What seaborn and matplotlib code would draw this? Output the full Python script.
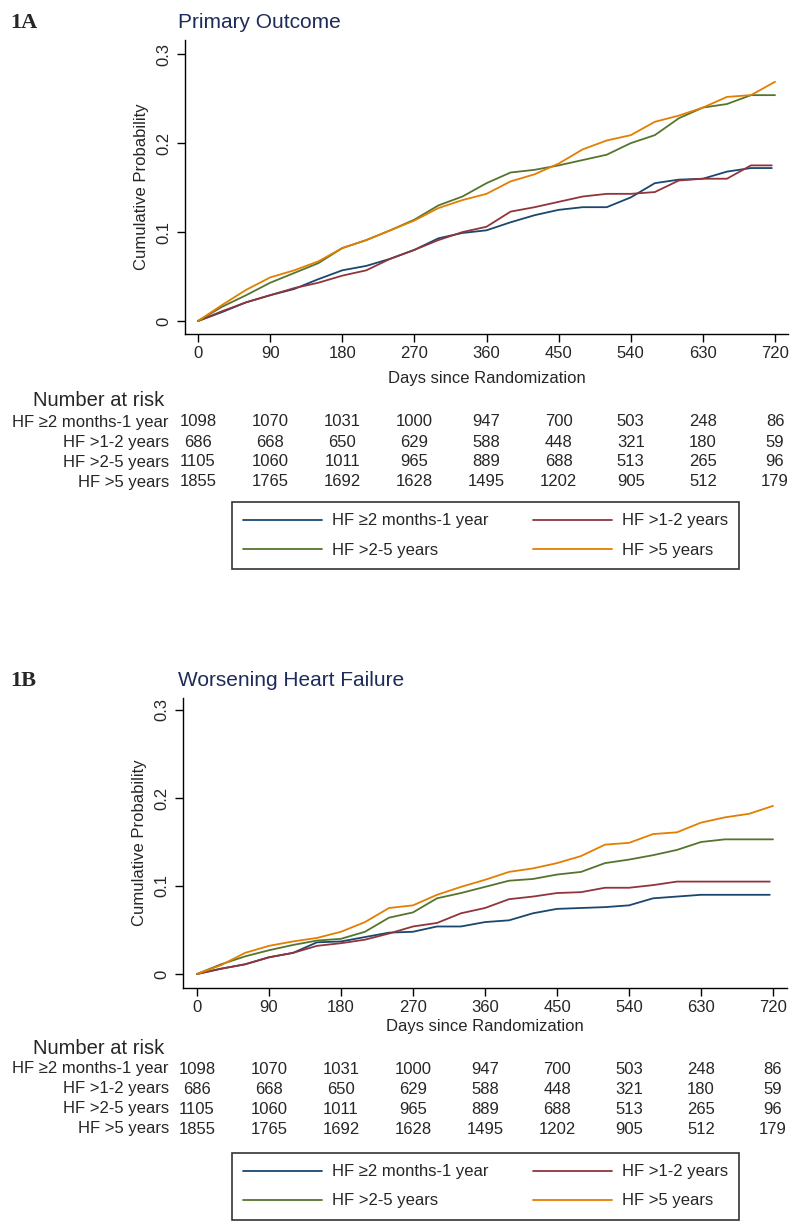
import matplotlib
matplotlib.use("Agg")
import pandas as pd
import matplotlib.pyplot as plt
import seaborn as sns
from matplotlib.lines import Line2D
from matplotlib.transforms import blended_transform_factory

# ---------- DATA ----------
GROUPS = ["HF ≥2 months-1 year", "HF >1-2 years", "HF >2-5 years", "HF >5 years"]
COLORS = ["#1a476f", "#90353b", "#55752f", "#e37e00"]

DAYS = [0, 30, 60, 90, 120, 150, 180, 210, 240, 270, 300, 330, 360,
        390, 420, 450, 480, 510, 540, 570, 600, 630, 660, 690, 720]
END_DAY = [716, 716, 720, 720]

# Panel 1A - primary outcome (cumulative probability read at each day)
A_BLUE = [0, 0.010, 0.021, 0.029, 0.036, 0.047, 0.057, 0.062, 0.070, 0.080, 0.093, 0.099,
          0.102, 0.111, 0.119, 0.125, 0.128, 0.128, 0.139, 0.155, 0.159, 0.160, 0.168, 0.172, 0.172]
A_RED = [0, 0.011, 0.021, 0.029, 0.037, 0.043, 0.051, 0.057, 0.070, 0.080, 0.091, 0.100,
         0.106, 0.123, 0.128, 0.134, 0.140, 0.143, 0.143, 0.145, 0.158, 0.160, 0.160, 0.175, 0.175]
A_GREEN = [0, 0.016, 0.029, 0.043, 0.054, 0.065, 0.082, 0.091, 0.102, 0.114, 0.130, 0.140,
           0.155, 0.167, 0.170, 0.175, 0.181, 0.187, 0.200, 0.209, 0.228, 0.240, 0.244, 0.254, 0.254]
A_ORANGE = [0, 0.018, 0.035, 0.049, 0.057, 0.067, 0.082, 0.091, 0.102, 0.113, 0.127, 0.136,
            0.143, 0.157, 0.165, 0.177, 0.193, 0.203, 0.209, 0.224, 0.231, 0.240, 0.252, 0.254, 0.269]

# Panel 1B - worsening heart failure
B_BLUE = [0, 0.006, 0.011, 0.019, 0.024, 0.036, 0.037, 0.042, 0.047, 0.048, 0.054, 0.054,
          0.059, 0.061, 0.069, 0.074, 0.075, 0.076, 0.078, 0.086, 0.088, 0.090, 0.090, 0.090, 0.090]
B_RED = [0, 0.006, 0.011, 0.019, 0.024, 0.032, 0.035, 0.039, 0.046, 0.054, 0.058, 0.069,
         0.075, 0.085, 0.088, 0.092, 0.093, 0.098, 0.098, 0.101, 0.105, 0.105, 0.105, 0.105, 0.105]
B_GREEN = [0, 0.011, 0.020, 0.027, 0.033, 0.038, 0.040, 0.048, 0.064, 0.070, 0.086, 0.092,
           0.099, 0.106, 0.108, 0.113, 0.116, 0.126, 0.130, 0.135, 0.141, 0.150, 0.153, 0.153, 0.153]
B_ORANGE = [0, 0.010, 0.024, 0.032, 0.037, 0.041, 0.048, 0.059, 0.075, 0.078, 0.090, 0.099,
            0.107, 0.116, 0.120, 0.126, 0.134, 0.147, 0.149, 0.159, 0.161, 0.172, 0.178, 0.182, 0.191]

# Number at risk (same table under both panels)
RISK_DAYS = [0, 90, 180, 270, 360, 450, 540, 630, 720]
RISK_BLUE = [1098, 1070, 1031, 1000, 947, 700, 503, 248, 86]
RISK_RED = [686, 668, 650, 629, 588, 448, 321, 180, 59]
RISK_GREEN = [1105, 1060, 1011, 965, 889, 688, 513, 265, 96]
RISK_ORANGE = [1855, 1765, 1692, 1628, 1495, 1202, 905, 512, 179]

X_TICKS = [0, 90, 180, 270, 360, 450, 540, 630, 720]
Y_TICKS = [0, 0.1, 0.2, 0.3]
Y_TICKLABELS = ["0", "0.1", "0.2", "0.3"]

# ---------- STYLE ----------
W, H = 800, 1231
sns.set_theme(style="ticks")
plt.rcParams["font.family"] = ["Liberation Sans", "DejaVu Sans"]
TITLE_COLOR = "#1c2b5a"


def fx(px):
    return px / W


def fy(py):
    return 1 - py / H


def long_frame(series):
    rows = []
    for grp, vals, end in zip(GROUPS, series, END_DAY):
        days = DAYS[:-1] + [end]
        for d, v in zip(days, vals):
            rows.append({"day": d, "prob": v, "group": grp})
    return pd.DataFrame(rows)


def draw_panel(fig, box, xlim, ylim, panel_label, title, title_y, table_y, legend_top, series):
    left, top, right, bottom = box
    ax = fig.add_axes([fx(left), fy(bottom), fx(right - left), (bottom - top) / H])

    df = long_frame(series)
    sns.lineplot(data=df, x="day", y="prob", hue="group", hue_order=GROUPS,
                 palette=COLORS, estimator=None, sort=False, linewidth=1.3,
                 legend=False, ax=ax)

    ax.set_xlim(*xlim)
    ax.set_ylim(*ylim)
    ax.set_xticks(X_TICKS)
    ax.set_yticks(Y_TICKS)
    ax.set_yticklabels(Y_TICKLABELS, rotation=90, va="center")
    ax.tick_params(axis="both", length=6, width=1, color="black", labelsize=12)
    ax.tick_params(axis="y", pad=4)
    ax.tick_params(axis="x", pad=3)
    sns.despine(ax=ax)
    for sp in ("left", "bottom"):
        ax.spines[sp].set_color("black")
        ax.spines[sp].set_linewidth(1)
    ax.set_xlabel("")
    ax.set_ylabel("Cumulative Probability", fontsize=12, labelpad=5)

    # panel label and title
    fig.text(fx(10), fy(title_y), panel_label, fontsize=16, fontweight="bold",
             family=["Liberation Serif", "DejaVu Serif"], va="center", ha="left")
    fig.text(fx(178), fy(title_y), title, fontsize=15, color=TITLE_COLOR,
             va="center", ha="left")

    trans = blended_transform_factory(ax.transData, fig.transFigure)
    fig.text(360, fy(table_y[0]), "Days since Randomization", transform=trans,
             fontsize=12, ha="center", va="center")

    # number at risk table
    fig.text(fx(33), fy(table_y[1]), "Number at risk", fontsize=14.5, ha="left", va="center")
    risk_rows = [RISK_BLUE, RISK_RED, RISK_GREEN, RISK_ORANGE]
    for grp, counts, ry in zip(GROUPS, risk_rows, table_y[2:]):
        fig.text(fx(169), fy(ry), grp, fontsize=12, ha="right", va="center")
        for d, n in zip(RISK_DAYS, counts):
            fig.text(d, fy(ry), str(n), transform=trans, fontsize=12,
                     ha="center", va="center")

    # legend: filled row by row (blue, red / green, orange)
    order = [0, 2, 1, 3]
    handles = [Line2D([], [], color=COLORS[i], lw=1.3) for i in order]
    labels = [GROUPS[i] for i in order]
    leg = fig.legend(handles, labels, ncol=2, loc="upper left",
                     bbox_to_anchor=(fx(232), fy(legend_top)), frameon=True,
                     fancybox=False, fontsize=12, handlelength=4.7,
                     handletextpad=0.6, columnspacing=2.7, labelspacing=0.85,
                     borderpad=0.68, borderaxespad=0)
    leg.get_frame().set_edgecolor("black")
    leg.get_frame().set_linewidth(1.2)
    return ax


fig = plt.figure(figsize=(W / 100, H / 100), dpi=100)

draw_panel(fig, (185, 40, 788, 334), (-16.2, 736.2), (-0.0146, 0.316),
           "1A", "Primary Outcome", 23, [378, 400, 422, 442, 462, 482], 502,
           [A_BLUE, A_RED, A_GREEN, A_ORANGE])

draw_panel(fig, (183, 698, 787, 988), (-17.5, 737.5), (-0.0159, 0.3136),
           "1B", "Worsening Heart Failure", 681, [1026, 1048, 1069, 1089, 1109, 1129], 1153,
           [B_BLUE, B_RED, B_GREEN, B_ORANGE])

fig.savefig("out.png", dpi=100, facecolor="white")
